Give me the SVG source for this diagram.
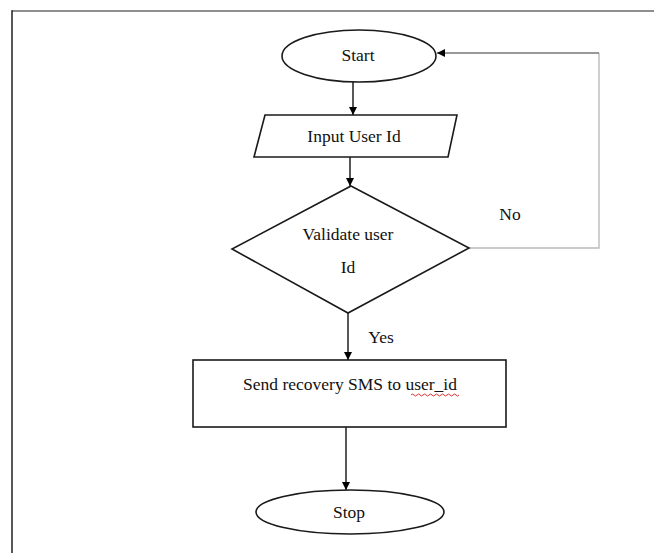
<svg xmlns="http://www.w3.org/2000/svg" width="654" height="553" viewBox="0 0 654 553">
  <defs>
    <marker id="arrow" viewBox="0 0 10 10" refX="10" refY="5" markerWidth="8" markerHeight="8" markerUnits="userSpaceOnUse" orient="auto">
      <path d="M0,0 L10,5 L0,10 z" fill="#000"/>
    </marker>
    <style>
      .shape { fill: #fff; stroke: #1a1a1a; stroke-width: 1.6; }
      .label { font-family: "Liberation Serif", "Times New Roman", serif; font-size: 17.5px; fill: #111; text-anchor: middle; }
      .edge { fill: none; stroke: #111; stroke-width: 1.4; }
      .loop { fill: none; stroke: #bbb; stroke-width: 1.4; }
    </style>
  </defs>

  <rect width="654" height="553" fill="#fff"/>

  <!-- page frame -->
  <g id="frame">
    <line x1="12" y1="11" x2="654" y2="11" stroke="#6a6a6a" stroke-width="1.4"/>
    <line x1="12" y1="10.3" x2="12" y2="553" stroke="#111" stroke-width="1.4"/>
  </g>

  <!-- connectors -->
  <g id="connectors">
    <line class="edge" x1="353" y1="82" x2="353" y2="115" marker-end="url(#arrow)"/>
    <line class="edge" x1="350" y1="157" x2="350" y2="186" marker-end="url(#arrow)"/>
    <line class="edge" x1="348" y1="313" x2="348" y2="360" marker-end="url(#arrow)"/>
    <line class="edge" x1="346" y1="427" x2="346" y2="490" marker-end="url(#arrow)"/>
    <!-- "No" branch loops back to Start -->
    <polyline class="loop" points="469,248 599,248 599,53"/>
    <line x1="599" y1="53" x2="437" y2="53" stroke="#777" stroke-width="1.4" marker-end="url(#arrow)"/>
    <text class="label" x="510" y="220">No</text>
    <text class="label" x="381" y="343">Yes</text>
  </g>

  <g id="start">
    <ellipse class="shape" cx="359" cy="56" rx="77" ry="26"/>
    <text class="label" x="358" y="61">Start</text>
  </g>

  <g id="input">
    <polygon class="shape" points="265,115 457,115 448,157 254,157"/>
    <text class="label" x="354" y="142">Input User Id</text>
  </g>

  <g id="validate">
    <polygon class="shape" points="351,186 469,248 348,313 232,249"/>
    <text class="label" x="348" y="240">Validate user</text>
    <text class="label" x="348" y="273">Id</text>
  </g>

  <g id="send">
    <rect class="shape" x="193" y="360" width="313" height="67"/>
    <text class="label" x="350" y="390">Send recovery SMS to user_id</text>
    <path d="M411,395 q1.5,-2 3,0 t3,0 t3,0 t3,0 t3,0 t3,0 t3,0 t3,0 t3,0 t3,0 t3,0 t3,0 t3,0 t3,0 t3,0 t3,0" fill="none" stroke="#e03030" stroke-width="1"/>
  </g>

  <g id="stop">
    <ellipse class="shape" cx="350" cy="512" rx="94" ry="22"/>
    <text class="label" x="349" y="518">Stop</text>
  </g>
</svg>
